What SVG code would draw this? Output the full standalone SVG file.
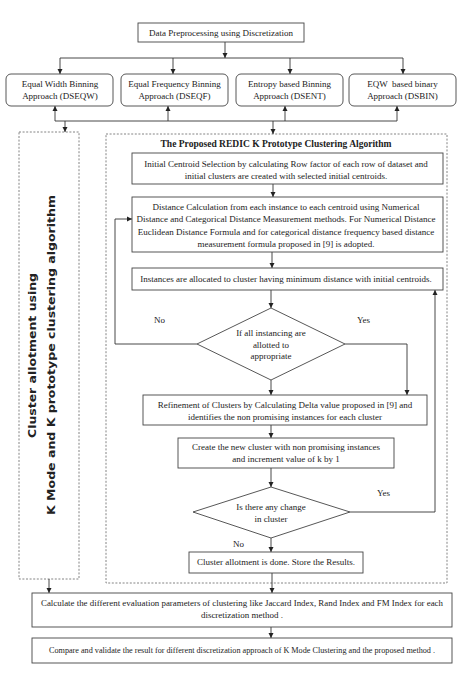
<svg xmlns="http://www.w3.org/2000/svg" width="465" height="691" viewBox="0 0 465 691">
<defs>
<style>
.bx{fill:#fff;stroke:#444;stroke-width:0.9}
.dash{fill:none;stroke:#666;stroke-width:0.8;stroke-dasharray:2,1.6}
.t{font-family:"Liberation Serif","Times New Roman",serif;font-size:9px;fill:#222;text-anchor:middle}
.tl{font-family:"Liberation Serif","Times New Roman",serif;font-size:9px;fill:#222}
.ts{font-family:"Liberation Serif","Times New Roman",serif;font-size:8.5px;fill:#222;text-anchor:middle}
.tb{font-family:"Liberation Serif","Times New Roman",serif;font-size:10px;font-weight:bold;fill:#222;text-anchor:middle}
.tv{font-family:"DejaVu Sans","Liberation Sans",sans-serif;font-size:10.5px;font-weight:bold;fill:#222;text-anchor:middle}
.c{fill:none;stroke:#333;stroke-width:0.9}
</style>
<marker id="ah" markerWidth="6" markerHeight="6" refX="5" refY="3" orient="auto" markerUnits="userSpaceOnUse">
<path d="M0,0.5 L5,3 L0,5.5 z" fill="#222"/>
</marker>
</defs>
<rect width="465" height="691" fill="#fff"/>

<g id="dashed-left"><rect class="dash" x="19" y="132" width="60" height="447"/>
<text class="tv" transform="rotate(-90 35.5 355.5)" x="35.5" y="355.5" textLength="165" lengthAdjust="spacingAndGlyphs">Cluster allotment using</text>
<text class="tv" transform="rotate(-90 54.5 355)" x="54.5" y="355" textLength="320" lengthAdjust="spacingAndGlyphs">K Mode and K prototype clustering algorithm</text>
</g>
<g id="dashed-right"><rect class="dash" x="106" y="134" width="341" height="449"/>
<text class="tb" x="276" y="147" textLength="231" lengthAdjust="spacingAndGlyphs">The Proposed REDIC K Prototype Clustering Algorithm</text>
</g>

<g id="connectors">
<path class="c" d="M225,42 V58" marker-end="url(#ah)"/>
<path class="c" d="M60,58 H403"/>
<path class="c" d="M60,58 V74" marker-end="url(#ah)"/>
<path class="c" d="M173,58 V74" marker-end="url(#ah)"/>
<path class="c" d="M290,58 V74" marker-end="url(#ah)"/>
<path class="c" d="M403,58 V74" marker-end="url(#ah)"/>
<path class="c" d="M55,121 H397"/>
<path class="c" d="M55,121 V106" marker-end="url(#ah)"/>
<path class="c" d="M168,121 V106" marker-end="url(#ah)"/>
<path class="c" d="M285,121 V106" marker-end="url(#ah)"/>
<path class="c" d="M397,121 V106" marker-end="url(#ah)"/>
<path class="c" d="M65,121 V132" marker-end="url(#ah)"/>
<path class="c" d="M273,121 V134" marker-end="url(#ah)"/>
<path class="c" d="M273,184 V197" marker-end="url(#ah)"/>
<path class="c" d="M272,252 V268" marker-end="url(#ah)"/>
<path class="c" d="M271,290 V308" marker-end="url(#ah)"/>
<path class="c" d="M197,344 H115 V219 H132" marker-end="url(#ah)"/>
<path class="c" d="M345,344 H407 V395" marker-end="url(#ah)"/>
<path class="c" d="M271,380 V395" marker-end="url(#ah)"/>
<path class="c" d="M271,425 V438" marker-end="url(#ah)"/>
<path class="c" d="M271,468 V487" marker-end="url(#ah)"/>
<path class="c" d="M350,512 H435 V290" marker-end="url(#ah)"/>
<path class="c" d="M271,538 V552" marker-end="url(#ah)"/>
<path class="c" d="M272,573 V593" marker-end="url(#ah)"/>
<path class="c" d="M49,579 V593" marker-end="url(#ah)"/>
<path class="c" d="M271,627 V638" marker-end="url(#ah)"/>
<text class="tl" x="154" y="323">No</text>
<text class="tl" x="357" y="323">Yes</text>
<text class="tl" x="377" y="496">Yes</text>
<text class="tl" x="233" y="547">No</text>
</g>

<g id="n-top"><rect class="bx" x="138" y="23" width="166" height="19"/>
<text class="t" x="221" y="35.5">Data Preprocessing using Discretization</text></g>

<g id="n-dseqw"><rect class="bx" x="6" y="74" width="107" height="32" rx="5"/>
<text class="t" x="60" y="87">Equal Width Binning</text>
<text class="t" x="60" y="98.5">Approach (DSEQW)</text></g>
<g id="n-dseqf"><rect class="bx" x="121" y="74" width="107" height="32" rx="5"/>
<text class="t" x="174.5" y="87">Equal Frequency Binning</text>
<text class="t" x="174.5" y="98.5">Approach (DSEQF)</text></g>
<g id="n-dsent"><rect class="bx" x="236" y="74" width="107" height="32" rx="5"/>
<text class="t" x="289.5" y="87">Entropy based Binning</text>
<text class="t" x="289.5" y="98.5">Approach (DSENT)</text></g>
<g id="n-dsbin"><rect class="bx" x="349" y="74" width="107" height="32" rx="5"/>
<text class="t" x="402.5" y="87" xml:space="preserve">EQW  based binary</text>
<text class="t" x="402.5" y="98.5">Approach (DSBIN)</text></g>

<g id="n-init"><rect class="bx" x="132" y="153" width="311" height="31"/>
<text class="t" x="286" y="166.5">Initial Centroid Selection by calculating Row factor of each row of dataset and</text>
<text class="t" x="286" y="179">initial clusters are created with selected initial centroids.</text></g>

<g id="n-dist"><rect class="bx" x="132" y="197" width="311" height="55"/>
<text class="t" x="286" y="209.5">Distance Calculation from each instance to each centroid using Numerical</text>
<text class="t" x="286" y="222">Distance and Categorical Distance Measurement methods. For Numerical Distance</text>
<text class="t" x="286" y="234.5">Euclidean Distance Formula and for categorical distance frequency based distance</text>
<text class="t" x="286" y="247">measurement formula proposed in [9] is adopted.</text></g>

<g id="n-alloc"><rect class="bx" x="132" y="268" width="311" height="22"/>
<text class="t" x="286" y="282">Instances are allocated to cluster having minimum distance with initial centroids.</text></g>

<g id="n-dec1"><polygon class="bx" points="271,308 345,344 271,380 197,344"/>
<text class="t" x="271" y="336">If all instancing are</text>
<text class="t" x="271" y="347.5">allotted to</text>
<text class="t" x="271" y="359">appropriate</text></g>

<g id="n-refine"><rect class="bx" x="143" y="395" width="284" height="30"/>
<text class="t" x="285" y="407.5">Refinement of Clusters by Calculating Delta value proposed in [9] and</text>
<text class="t" x="285" y="419.5">identifies the non promising instances for each cluster</text></g>

<g id="n-create"><rect class="bx" x="178" y="438" width="216" height="30"/>
<text class="t" x="286" y="449.5">Create the new cluster with non promising instances</text>
<text class="t" x="286" y="462">and increment value of k by 1</text></g>

<g id="n-dec2"><polygon class="bx" points="271,487 350,512 271,538 193,512"/>
<text class="t" x="271" y="509.5">Is there any change</text>
<text class="t" x="271" y="521.5">in cluster</text></g>

<g id="n-done"><rect class="bx" x="189" y="552" width="174" height="21"/>
<text class="t" x="276" y="565">Cluster allotment is done. Store the Results.</text></g>

<g id="n-eval"><rect class="bx" x="32" y="593" width="420" height="34"/>
<text class="t" x="242" y="605.5" textLength="402" lengthAdjust="spacingAndGlyphs">Calculate the different evaluation parameters of clustering like Jaccard Index, Rand Index and FM Index for each</text>
<text class="t" x="242" y="618">discretization method .</text></g>

<g id="n-compare"><rect class="bx" x="32" y="638" width="420" height="25"/>
<text class="ts" x="242" y="653" textLength="386" lengthAdjust="spacingAndGlyphs">Compare and validate the result for different discretization approach of K Mode Clustering and the proposed method .</text></g>
</svg>
